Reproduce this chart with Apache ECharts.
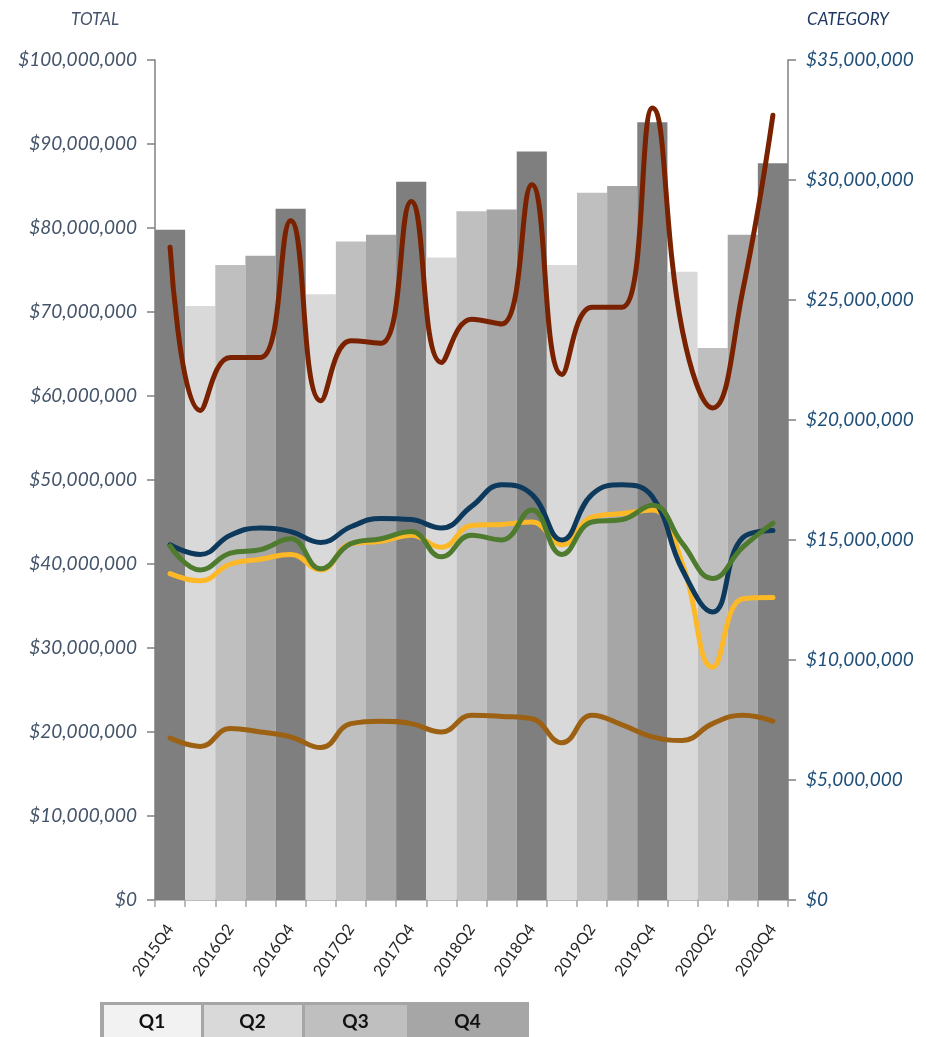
<!DOCTYPE html>
<html lang="en">
<head>
    <meta charset="UTF-8">
    <title>Total vs Category</title>
    <script src="https://cdn.jsdelivr.net/npm/echarts@6/dist/echarts.min.js"></script>
</head>
<body style="margin: 0">
<div id="chart" style="width: 926px;height: 1037px"></div>
<script>
// quarters on the x axis
const categories = ['2015Q4', '2016Q1', '2016Q2', '2016Q3', '2016Q4', '2017Q1', '2017Q2', '2017Q3', '2017Q4',
    '2018Q1', '2018Q2', '2018Q3', '2018Q4', '2019Q1', '2019Q2', '2019Q3', '2019Q4',
    '2020Q1', '2020Q2', '2020Q3', '2020Q4']
// bars, left axis ($ millions)
const totals = [79.8, 70.7, 75.6, 76.7, 82.3, 72.1, 78.4, 79.2, 85.5, 76.5, 82.0, 82.2, 89.1,
    75.6, 84.2, 85.0, 92.6, 74.8, 65.7, 79.2, 87.7]
// lines, right axis ($ millions)
const catRed = [27.2, 20.4, 22.6, 22.6, 28.3, 20.8, 23.3, 23.2, 29.1, 22.4, 24.2, 24.0, 29.8,
    21.9, 24.7, 24.7, 33.0, 23.7, 20.5, 25.4, 32.7]
const catNavy = [14.8, 14.4, 15.2, 15.5, 15.35, 14.9, 15.55, 15.9, 15.85, 15.5, 16.4, 17.3, 16.9,
    15.0, 16.9, 17.3, 16.8, 13.75, 12.0, 15.1, 15.4]
const catYellow = [13.6, 13.3, 14.0, 14.2, 14.4, 13.75, 14.85, 14.95, 15.2, 14.7, 15.6, 15.65, 15.75,
    14.8, 15.95, 16.1, 16.25, 14.0, 9.7, 12.55, 12.6]
const catGreen = [14.75, 13.75, 14.45, 14.6, 15.05, 13.8, 14.85, 15.05, 15.35, 14.3, 15.2, 15.0, 16.25,
    14.4, 15.75, 15.85, 16.45, 14.85, 13.4, 14.7, 15.7]
const catBrown = [6.75, 6.4, 7.15, 7.0, 6.8, 6.35, 7.35, 7.45, 7.35, 7.0, 7.7, 7.65, 7.55,
    6.55, 7.7, 7.3, 6.8, 6.65, 7.35, 7.7, 7.45]
// legend table
const quarterNames = ['Q1', 'Q2', 'Q3', 'Q4']
const barColors = {Q1: '#d9d9d9', Q2: '#bfbfbf', Q3: '#a6a6a6', Q4: '#7f7f7f'}
const legendColors = ['#f2f2f2', '#d9d9d9', '#bfbfbf', '#a6a6a6']

const M = 1000000
const money = v => '$' + Math.round(v).toLocaleString('en-US')
const font = 'Lato, "Open Sans", sans-serif'

function lineSeries(data, color) {
    return {
        type: 'line',
        yAxisIndex: 1,
        data: data.map(v => v * M),
        smooth: 0.45,
        symbol: 'none',
        lineStyle: {width: 5, color: color, cap: 'round', join: 'round'},
        z: 3
    }
}

// legend cells
const legendX = [102, 202, 303, 408, 527]
const legendGraphics = []
legendGraphics.push({type: 'rect', shape: {x: 100, y: 1002, width: 429, height: 40}, style: {fill: '#a6a6a6'}})
quarterNames.forEach((q, i) => {
    legendGraphics.push({
        type: 'rect',
        shape: {x: legendX[i] + 2, y: 1005, width: legendX[i + 1] - legendX[i] - 3, height: 40},
        style: {fill: legendColors[i]}
    })
    legendGraphics.push({
        type: 'text',
        x: (legendX[i] + legendX[i + 1]) / 2,
        y: 1022,
        style: {text: q, font: 'bold 19px ' + font, fill: '#111', align: 'center', verticalAlign: 'middle'}
    })
})

const chart = echarts.init(document.getElementById('chart'))
chart.setOption({
    animation: false,
    grid: {left: 155, right: 138, top: 60, bottom: 137},
    graphic: [
        {type: 'text', x: 95, y: 20, style: {text: 'TOTAL', font: 'italic 17px ' + font, fill: '#44546a', align: 'center', verticalAlign: 'middle'}},
        {type: 'text', x: 848, y: 20, style: {text: 'CATEGORY', font: 'italic 17px ' + font, fill: '#1f3864', align: 'center', verticalAlign: 'middle'}},
        ...legendGraphics
    ],
    xAxis: {
        type: 'category',
        data: categories,
        axisLine: {lineStyle: {color: '#a6a6a6', width: 1.5}},
        axisTick: {show: true, interval: 0, length: 7, lineStyle: {color: '#a6a6a6', width: 1.5}},
        axisLabel: {interval: 1, rotate: 55, margin: 26, fontSize: 16, fontFamily: font, color: '#262626'}
    },
    yAxis: [
        {
            type: 'value', min: 0, max: 100 * M, interval: 10 * M,
            splitLine: {show: false},
            axisLine: {show: true, lineStyle: {color: '#808080', width: 1.5}},
            axisTick: {show: true, length: 8, lineStyle: {color: '#808080', width: 1.5}},
            axisLabel: {formatter: money, margin: 18, fontSize: 19, fontStyle: 'italic', fontFamily: font, color: '#44546a'}
        },
        {
            type: 'value', min: 0, max: 35 * M, interval: 5 * M,
            splitLine: {show: false},
            axisLine: {show: true, lineStyle: {color: '#808080', width: 1.5}},
            axisTick: {show: true, length: 8, lineStyle: {color: '#808080', width: 1.5}},
            axisLabel: {formatter: money, margin: 18, fontSize: 19, fontStyle: 'italic', fontFamily: font, color: '#1f4e79'}
        }
    ],
    series: [
        {
            type: 'bar',
            data: totals.map((v, i) => ({
                value: v * M,
                itemStyle: {color: barColors[categories[i].slice(4)]}
            })),
            barCategoryGap: '0%',
            z: 1
        },
        lineSeries(catBrown, '#9c6112'),
        lineSeries(catYellow, '#fdb827'),
        lineSeries(catNavy, '#0d3a5c'),
        lineSeries(catGreen, '#4f7b2f'),
        lineSeries(catRed, '#7a2200')
    ]
})
</script>
</body>
</html>
